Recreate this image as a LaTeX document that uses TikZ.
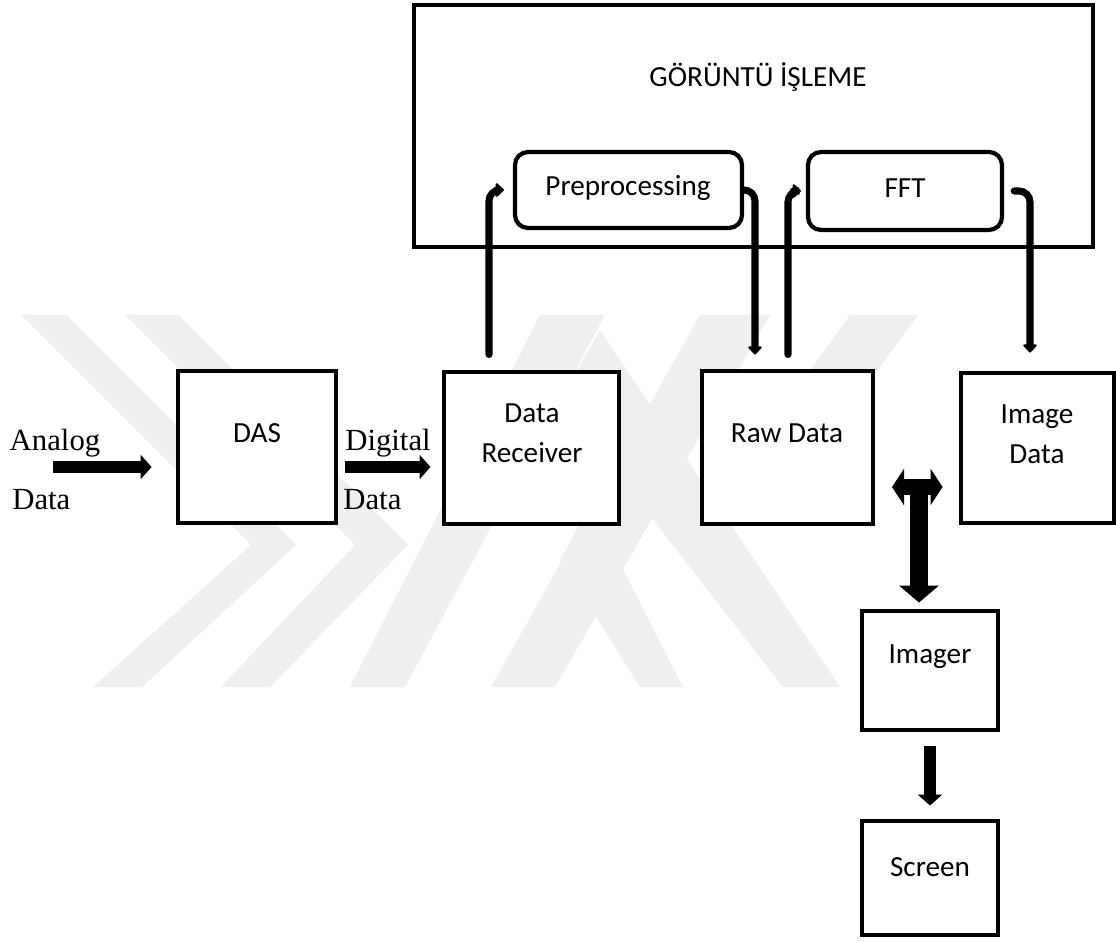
\documentclass[tikz,border=0pt]{standalone}
\usepackage{fontspec}
\setmainfont{Carlito}
\newfontfamily\tms{Liberation Serif}
\usetikzlibrary{arrows.meta}
\definecolor{wm}{HTML}{EFEFEF}
\tikzset{
  box/.style={draw=black, line width=2.8pt, minimum width=#1, inner sep=0pt},
  rbox/.style={draw=black, line width=2.4pt, rounded corners=0.26cm, inner sep=0pt},
  lbl/.style={font=\fontsize{16.6}{22.5}\selectfont, inner sep=0pt, align=center},
  tlbl/.style={font=\tms\fontsize{17.5}{20}\selectfont, inner sep=0pt},
  conn/.style={line width=4pt, line cap=round, rounded corners=0.22cm,
    -{Triangle[width=9pt,length=5pt,round]}},
  block/.style={line width=0.24cm, -{Triangle[width=0.48cm,length=0.22cm]}},
}
\begin{document}
\begin{tikzpicture}[x=0.02cm, y=-0.02cm]
\useasboundingbox (0,0) rectangle (1116,942);
% watermark
\fill[wm] (21,315) -- (66,315) -- (296,545) -- (142,687) -- (93,687) -- (251,545) -- cycle;
\fill[wm] (125,315) -- (178,315) -- (408,545) -- (270,687) -- (221,687) -- (355,545) -- cycle;
\fill[wm] (540,315) -- (605,315) -- (405,687) -- (350,687) -- cycle;
\fill[wm] (700,315) -- (770,315) -- (555,687) -- (491,687) -- cycle;
\fill[wm] (560,400) -- (600,330) -- (840,687) -- (783,687) -- cycle;
\fill[wm] (560,560) -- (590,505) -- (683,687) -- (640,687) -- cycle;
\fill[wm] (850,315) -- (918,315) -- (790,490) -- (760,440) -- cycle;
% big box
\node[box=679*0.02cm, minimum height=242*0.02cm] (gi) at (753.5,126) {};
\node[lbl] (git) at (758,77) {GÖRÜNTÜ İŞLEME};
\node[rbox, minimum width=227*0.02cm, minimum height=76*0.02cm, fill=white] (pre) at (628.5,190) {};
\node[lbl] (pret) at (628,188) {Preprocessing};
\node[rbox, minimum width=194*0.02cm, minimum height=78*0.02cm, fill=white] (fft) at (905,191) {};
\node[lbl] (fftt) at (905,188) {FFT};
% boxes
\node[box=158*0.02cm, minimum height=152*0.02cm, fill=white] (das) at (257,447) {};
\node[lbl] (dast) at (257,433) {DAS};
\node[box=175*0.02cm, minimum height=152*0.02cm, fill=white] (dr) at (531.5,448) {};
\node[lbl] (drt) at (532,433) {Data\\Receiver};
\node[box=171*0.02cm, minimum height=153*0.02cm, fill=white] (raw) at (787.5,447.5) {};
\node[lbl] (rawt) at (787,433) {Raw Data};
\node[box=153*0.02cm, minimum height=150*0.02cm, fill=white] (img) at (1037.5,448) {};
\node[lbl] (imgt) at (1037,434) {Image\\Data};
\node[box=136*0.02cm, minimum height=119*0.02cm, fill=white] (imgr) at (930,670.5) {};
\node[lbl] (imgrt) at (930,657) {Imager};
\node[box=136*0.02cm, minimum height=114*0.02cm, fill=white] (scr) at (930,878) {};
\node[lbl] (scrt) at (930,867) {Screen};
% texts
\node[tlbl] (an) at (55,443) {Analog};
\node[tlbl, anchor=west] (and) at (12,500) {Data};
\node[tlbl] (dg) at (388,443) {Digital};
\node[tlbl, anchor=west] (dgd) at (343,500) {Data};
% block arrows
\coordinate (ain) at (53,467);
\draw[block, shorten >=0.48cm] (ain) -- (ain -| das.west);
\coordinate (din) at (345,467);
\draw[block, shorten >=0.22cm] (din) -- (din -| dr.west);
\draw[block, shorten <=0.28cm, shorten >=0.26cm] (imgr.south) -- (scr.north);
% T arrow
\coordinate (tl) at (892,487);
\coordinate (tc) at (919,487);
\draw[line width=0.34cm, {Triangle[width=0.72cm,length=0.24cm]}-{Triangle[width=0.72cm,length=0.24cm]}]
  (tl) -- (tl -| img.west) [shorten >=0.32cm];
\draw[line width=0.36cm, shorten >=0.12cm, -{Triangle[width=0.78cm,length=0.34cm]}] (tc) -- (tc |- imgr.north);
% connectors
\draw[conn, shorten <=0.3cm, shorten >=0.18cm] (dr.north -| 489,0) |- (pre.west);
\draw[conn, shorten >=0.28cm] (pre.east) -| (755,0 |- raw.north);
\draw[conn, shorten <=0.28cm, shorten >=0.1cm] (raw.north -| 788,0) |- (fft.west);
\draw[conn, shorten <=0.2cm, shorten >=0.36cm] (fft.east) -| (1030,0 |- img.north);
\end{tikzpicture}
\end{document}
